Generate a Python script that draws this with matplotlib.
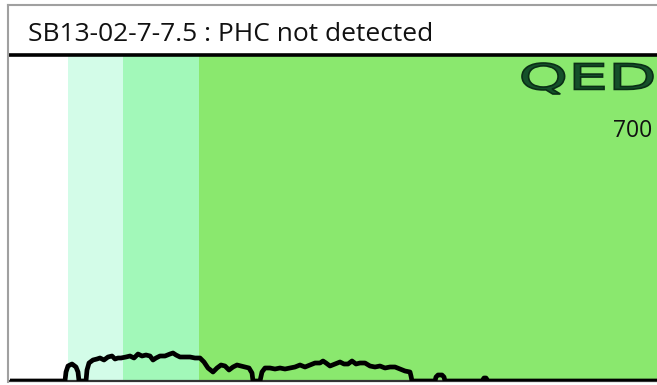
import matplotlib
matplotlib.use("Agg")
import matplotlib.pyplot as plt
from matplotlib.lines import Line2D
from matplotlib.patches import PathPatch
from matplotlib.textpath import TextPath
from matplotlib.font_manager import FontProperties
from matplotlib.transforms import Affine2D

# sample name / result
title = "SB13-02-7-7.5 : PHC not detected"
scale_label = "700"

# retention-window shading (start, end) and colours
band_edges = [(5.8, 11.3), (11.3, 18.9), (18.9, 64.7)]
band_colors = ["#d3fce8", "#a2f8b9", "#8ae86e"]

# chromatogram trace: retention position and detector response
rt = [0.0, 5.5, 5.6, 5.8, 6.2, 6.6, 6.8, 6.9, 7.6, 7.7,
      7.9, 8.3, 8.7, 9.0, 9.4, 9.8, 10.2, 10.5, 10.8, 11.1,
      11.6, 12.0, 12.4, 12.8, 13.2, 13.6, 14.0, 14.3, 14.6, 15.0,
      15.5, 16.0, 16.3, 16.6, 17.0, 17.5, 18.0, 18.5, 19.0, 19.4,
      19.8, 20.3, 20.7, 21.1, 21.5, 21.9, 22.3, 22.7, 23.1, 23.5,
      23.9, 24.2, 24.3, 25.0, 25.2, 25.5, 26.0, 26.5, 27.0, 27.5,
      28.0, 28.5, 29.0, 29.5, 30.0, 30.5, 31.0, 31.3, 31.6, 32.0,
      32.5, 33.0, 33.4, 33.8, 34.2, 34.6, 35.0, 35.5, 36.0, 36.5,
      37.0, 37.5, 38.0, 38.5, 39.0, 39.5, 40.0, 40.1, 40.2, 42.5,
      42.6, 42.8, 43.2, 43.4, 43.5, 47.2, 47.4, 47.6, 47.8, 64.7]
signal = [0, 0, 9, 15, 17, 14, 9, 0, 0, 11,
          18, 21, 22, 23, 21, 24, 25, 22, 23, 23,
          24, 25, 23, 27, 25, 26, 25, 21, 23, 25,
          25, 27, 28, 26, 24, 24, 24, 23, 23, 19,
          13, 9, 13, 16, 15, 11, 14, 16, 15, 14,
          13, 8, 0, 0, 9, 13, 13, 12, 13, 12,
          13, 14, 16, 14, 16, 18, 18, 20, 18, 15,
          17, 19, 17, 17, 20, 17, 18, 18, 15, 14,
          15, 13, 14, 14, 12, 10, 9, 5, 0, 0,
          4, 6, 6, 4, 0, 0, 3, 3, 0, 0]

W, H = 657, 385
fig = plt.figure(figsize=(W / 100, H / 100), dpi=100)
fig.patch.set_facecolor("white")

# outer frame of the panel
fig.add_artist(Line2D([7.5 / W, 7.5 / W], [3 / H, 380 / H], color="#a0a0a0", lw=1.5))
fig.add_artist(Line2D([7.5 / W, 1.0], [380 / H, 380 / H], color="#a0a0a0", lw=1.5))

fig.text(28 / W, 1 - 41 / H, title, fontsize=19, family="Open Sans",
         ha="left", va="baseline", color="#111111")

ax = fig.add_axes([10 / W, 4 / H, (W - 10) / W, (381 - 55) / H])
ax.set_xlim(0, 64.7)
ax.set_ylim(0, 326)
ax.set_facecolor("white")

for (x0, x1), c in zip(band_edges, band_colors):
    ax.axvspan(x0, x1, color=c, lw=0, zorder=0)

ax.plot(rt, signal, color="black", lw=3.4, solid_joinstyle="round",
        solid_capstyle="round", zorder=3)

for side in ["left", "right"]:
    ax.spines[side].set_visible(False)
ax.spines["top"].set_linewidth(2.6)
ax.spines["top"].set_color("black")
ax.spines["bottom"].set_linewidth(1.6)
ax.spines["bottom"].set_color("#333333")
ax.set_xticks([])
ax.set_yticks([])

ax.text(0.993, 1 - (131 - 55) / 326, scale_label, transform=ax.transAxes,
        fontsize=16.5, family="Open Sans", ha="right", va="center", color="#111111")

# QED logo, stretched to fit its box in pixel space
tp = TextPath((0, 0), "QED", size=10, prop=FontProperties(family="DejaVu Sans"))
bb = tp.get_extents()
x0, y0, x1, y1 = 522, H - 94, 653, H - 63
tr = (Affine2D().translate(-bb.x0, -bb.y0)
      .scale((x1 - x0) / bb.width, (y1 - y0) / bb.height)
      .translate(x0, y0))
logo = PathPatch(tr.transform_path(tp), facecolor="#15502a", edgecolor="#0a2e16",
                 lw=1.2, transform=None, zorder=5)
fig.add_artist(logo)

fig.savefig("out.png", dpi=100)
